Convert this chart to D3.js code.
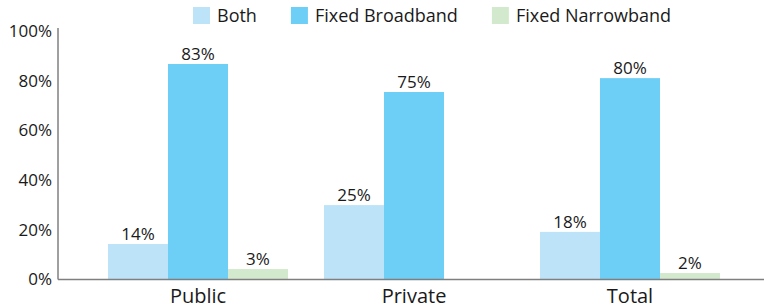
<!DOCTYPE html>
<html><head><meta charset="utf-8">
<script src="https://cdn.jsdelivr.net/npm/d3@7"></script>
<style>body{margin:0;background:#fff}svg{display:block}text{font-family:"Open Sans",sans-serif;fill:#1a1a1a}</style>
</head><body>
<svg id="c" width="764" height="308"></svg>
<script>
const categories = ["Public", "Private", "Total"];
const seriesNames = ["Both", "Fixed Broadband", "Fixed Narrowband"];
const seriesColors = ["#bde3f8", "#6ecff6", "#d3e9cd"];
// bar heights as drawn (fraction)
const bothValues = [0.141, 0.298, 0.19];
const broadbandValues = [0.867, 0.754, 0.81];
const narrowbandValues = [0.04, 0, 0.024];
// labels as printed
const bothLabels = ["14%", "25%", "18%"];
const broadbandLabels = ["83%", "75%", "80%"];
const narrowbandLabels = ["3%", "", "2%"];
const yTicks = [0, 0.2, 0.4, 0.6, 0.8, 1.0];

const seriesValues = [bothValues, broadbandValues, narrowbandValues];
const seriesLabels = [bothLabels, broadbandLabels, narrowbandLabels];

const svg = d3.select("#c");
const axisX = 58, baseY = 279, topY = 31;
const y = d3.scaleLinear().domain([0, 1]).range([baseY, topY]);
const x0 = d3.scalePoint().domain(categories).range([198, 630]);
const x1 = d3.scaleBand().domain(seriesNames).range([-90, 90]);

// bars
categories.forEach((cat, ci) => {
  seriesNames.forEach((s, si) => {
    const v = seriesValues[si][ci];
    const bx = x0(cat) + x1(s);
    if (v > 0) {
      svg.append("rect").attr("x", bx).attr("y", y(v))
        .attr("width", x1.bandwidth()).attr("height", y(0) - y(v))
        .attr("fill", seriesColors[si]);
    }
    const lab = seriesLabels[si][ci];
    if (lab) {
      svg.append("text").attr("x", bx + x1.bandwidth() / 2).attr("y", y(v) - 4)
        .attr("text-anchor", "middle").attr("font-size", 17).text(lab);
    }
  });
});

// axes lines
svg.append("line").attr("x1", axisX).attr("x2", axisX).attr("y1", 28).attr("y2", baseY + 0.5)
  .attr("stroke", "#404040").attr("stroke-width", 1);
svg.append("line").attr("x1", axisX).attr("x2", 764).attr("y1", baseY + 0.5).attr("y2", baseY + 0.5)
  .attr("stroke", "#7f7f7f").attr("stroke-width", 1.6);

// y tick labels
svg.selectAll(".yt").data(yTicks).enter().append("text")
  .attr("x", 52).attr("y", d => y(d)).attr("dy", "0.36em")
  .attr("text-anchor", "end").attr("font-size", 17)
  .text(d => d3.format(".0%")(d));

// category labels
svg.selectAll(".xl").data(categories).enter().append("text")
  .attr("x", d => x0(d)).attr("y", 303)
  .attr("text-anchor", "middle").attr("font-size", 20).text(d => d);

// legend
let lx = 193;
seriesNames.forEach((s, i) => {
  svg.append("rect").attr("x", lx).attr("y", 7).attr("width", 17).attr("height", 17).attr("fill", seriesColors[i]);
  const t = svg.append("text").attr("x", lx + 24).attr("y", 15.5).attr("dy", "0.36em")
    .attr("font-size", 18).text(s);
  lx += 24 + t.node().getComputedTextLength() + 34;
});
</script>
</body></html>
